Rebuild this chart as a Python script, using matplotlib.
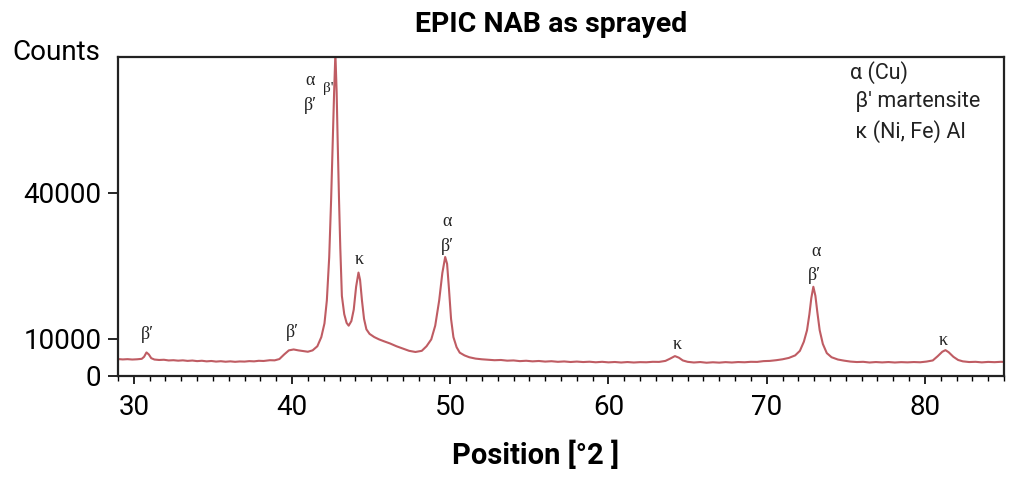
import matplotlib
matplotlib.use("Agg")
import matplotlib.pyplot as plt
from matplotlib.ticker import FixedLocator, MultipleLocator

plt.rcParams["font.family"] = ["Roboto", "DejaVu Sans"]

# XRD pattern (2-theta in degrees, counts)
two_theta = [29.0, 29.3, 29.6, 29.9, 30.2, 30.5, 30.65, 30.8, 30.95, 31.1,
             31.3, 31.6, 31.9, 32.2, 32.5, 32.8, 33.1, 33.4, 33.7, 34.0,
             34.3, 34.6, 34.9, 35.2, 35.5, 35.8, 36.1, 36.4, 36.7, 37.0,
             37.3, 37.6, 37.9, 38.2, 38.6, 38.9, 39.2, 39.5, 39.8, 40.1,
             40.4, 40.7, 41.0, 41.3, 41.6, 41.85, 42.05, 42.2, 42.35, 42.47,
             42.58, 42.66, 42.74, 42.82, 42.88, 42.97, 43.05, 43.15, 43.3, 43.45,
             43.58, 43.75, 43.9, 44.05, 44.2, 44.3, 44.42, 44.55, 44.7, 44.9,
             45.2, 45.5, 45.8, 46.2, 46.6, 47.0, 47.4, 47.8, 48.2, 48.5,
             48.8, 49.05, 49.3, 49.5, 49.68, 49.8, 49.92, 50.05, 50.2, 50.4,
             50.6, 50.9, 51.2, 51.6, 52.0, 52.4, 52.8, 53.2, 53.6, 54.0,
             54.4, 54.8, 55.2, 55.6, 56.0, 56.4, 56.8, 57.2, 57.6, 58.0,
             58.4, 58.8, 59.2, 59.6, 60.0, 60.4, 60.8, 61.2, 61.6, 62.0,
             62.4, 62.8, 63.2, 63.6, 63.9, 64.2, 64.45, 64.7, 65.0, 65.4,
             65.8, 66.2, 66.6, 67.0, 67.4, 67.8, 68.2, 68.6, 69.0, 69.4,
             69.8, 70.2, 70.6, 71.0, 71.4, 71.8, 72.1, 72.35, 72.55, 72.7,
             72.82, 72.95, 73.08, 73.2, 73.35, 73.55, 73.8, 74.1, 74.5, 74.9,
             75.3, 75.7, 76.1, 76.5, 76.9, 77.3, 77.7, 78.1, 78.5, 78.9,
             79.3, 79.7, 80.1, 80.5, 80.8, 81.1, 81.3, 81.5, 81.8, 82.1,
             82.4, 82.8, 83.2, 83.6, 84.0, 84.4, 84.8, 85.0]
counts = [3700, 3620, 3680, 3600, 3650, 3750, 4200, 5150, 4700, 3900,
          3600, 3500, 3550, 3400, 3450, 3350, 3420, 3300, 3380, 3250,
          3330, 3200, 3280, 3150, 3230, 3120, 3200, 3100, 3180, 3150,
          3250, 3200, 3320, 3280, 3450, 3420, 3700, 4700, 5600, 5800,
          5600, 5450, 5300, 5600, 6500, 8500, 11500, 16500, 26000, 38500,
          52000, 62000, 70500, 62000, 52000, 38500, 28000, 17500, 13500, 11600,
          11000, 12000, 14500, 19500, 22600, 21000, 16500, 12500, 10200, 9200,
          8500, 8000, 7600, 7100, 6500, 6000, 5500, 5250, 5500, 6500,
          8000, 11000, 16500, 22500, 26000, 24500, 19000, 12500, 8500, 6300,
          5100, 4500, 4100, 3800, 3650, 3550, 3450, 3500, 3350, 3400,
          3250, 3330, 3200, 3280, 3150, 3230, 3100, 3180, 3060, 3150,
          3050, 3120, 3000, 3100, 2980, 3060, 2950, 3050, 2950, 3030,
          3000, 3100, 3080, 3300, 3800, 4350, 4000, 3400, 3100, 2950,
          3050, 2900, 3000, 2920, 3030, 2950, 3050, 3000, 3100, 3080,
          3250, 3300, 3450, 3650, 3950, 4500, 5500, 7500, 10000, 13500,
          17000, 19500, 17500, 14000, 10000, 7000, 5000, 4100, 3600, 3350,
          3150, 3050, 3100, 2950, 3050, 2970, 3050, 2950, 3030, 2980,
          3050, 3000, 3150, 3400, 4300, 5300, 5650, 5200, 4200, 3500,
          3200, 3050, 3100, 2980, 3080, 3020, 3100, 3080]

# phase labels next to the peaks
peak_labels = ["β′", "β′", "α", "β'", "β′", "κ", "α", "β′", "κ", "α", "β′", "κ"]
peak_x = [30.88, 40.03, 41.16, 42.30, 41.16, 44.26, 49.81, 49.81, 64.32, 73.09, 73.03, 81.17]
peak_y = [8960, 9400, 64500, 62900, 59000, 25400, 33700, 28400, 6800, 27100, 21900, 7700]

legend_lines = ["α (Cu)", " β′ martensite", " κ (Ni, Fe) Al"]

# tick labels as printed on the original (its 10000 mark sits a bit low)
ytick_pos = [0, 8100, 40000]
ytick_labels = ["0", "10000", "40000"]

fig = plt.figure(figsize=(10.24, 4.79), dpi=100)
ax = fig.add_axes([118 / 1024, 1 - 376 / 479, 886 / 1024, 319 / 479])

ax.plot(two_theta, counts, color="#b84a52", linewidth=1.5, alpha=0.9)

ax.set_xlim(29, 85)
ax.set_ylim(0, 69700)

ax.xaxis.set_major_locator(MultipleLocator(10))
ax.xaxis.set_minor_locator(MultipleLocator(1))
ax.yaxis.set_major_locator(FixedLocator(ytick_pos))
ax.set_yticklabels(ytick_labels)
ax.tick_params(axis="x", which="major", length=6, width=1.2, labelsize=20, pad=7)
ax.tick_params(axis="x", which="minor", length=3.5, width=1.0)
ax.tick_params(axis="y", which="major", length=7, width=1.2, labelsize=20, pad=5)
for s in ax.spines.values():
    s.set_linewidth(1.6)
    s.set_color("#222222")

for lab, x, y in zip(peak_labels, peak_x, peak_y):
    fs = 11 if lab == "β'" else 13
    ax.text(x, y, lab, ha="center", va="center", fontsize=fs,
            family=["Liberation Serif", "DejaVu Serif"], color="#222222")

leg_y = [73, 102, 132]
for t, yy in zip(legend_lines, leg_y):
    fig.text(850 / 1024, 1 - yy / 479, t, ha="left", va="center", fontsize=15.5,
             family=["Roboto", "DejaVu Sans"], color="#222222")

fig.text(100 / 1024, 1 - 52 / 479, "Counts", ha="right", va="center", fontsize=20)
fig.text(551 / 1024, 1 - 25 / 479, "EPIC NAB as sprayed", ha="center", va="center",
         fontsize=20.5, fontweight="bold")
fig.text(536 / 1024, 1 - 455 / 479, "Position [°2 ]", ha="center", va="center",
         fontsize=21, fontweight="bold")

fig.savefig("out.png", dpi=100)
